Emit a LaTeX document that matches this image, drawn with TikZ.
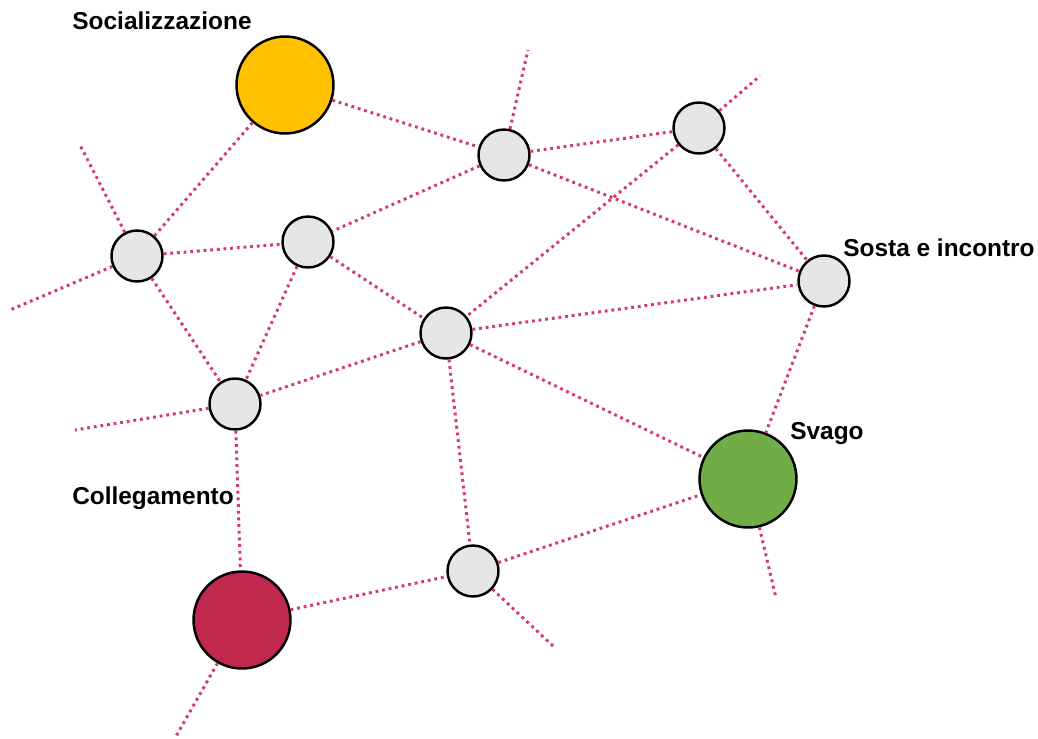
\documentclass[tikz,border=0pt]{standalone}
\usepackage{fontspec}
\setmainfont{Liberation Sans}
\definecolor{giallo}{HTML}{FFC000}
\definecolor{verde}{HTML}{70AD47}
\definecolor{rosso}{HTML}{C0284E}
\definecolor{grigio}{HTML}{E6E6E6}
\definecolor{rete}{HTML}{D63A5C}
\tikzset{
  nodo/.style={circle, draw=black, line width=1.4pt, fill=grigio, minimum size=1.02cm, inner sep=0pt},
  polo/.style={circle, draw=black, line width=1.4pt, minimum size=1.94cm, inner sep=0pt},
  link/.style={rete, line width=1.7pt, dash pattern=on 1.6pt off 2.2pt},
  etichetta/.style={font=\fontsize{13.9}{16}\selectfont\bfseries, inner sep=0pt}
}
\begin{document}
\begin{tikzpicture}[x=0.02cm, y=-0.02cm]
      \useasboundingbox (0,0) rectangle (1038,738);
      \node[polo, fill=giallo] (S) at (285,85) {};
      \node[polo, fill=verde] (V) at (748,479) {};
      \node[polo, fill=rosso] (C) at (242,620) {};
      \node[nodo] (N1) at (504,155) {};
      \node[nodo] (N2) at (699,128) {};
      \node[nodo] (N3) at (308,242) {};
      \node[nodo] (N4) at (137,256) {};
      \node[nodo] (N5) at (446,333) {};
      \node[nodo] (N6) at (824,281) {};
      \node[nodo] (N7) at (235,404) {};
      \node[nodo] (N8) at (473,571) {};
      \coordinate (E1) at (528,50);
      \coordinate (E2) at (760,76);
      \coordinate (E3) at (80,145);
      \coordinate (E4) at (10,310);
      \coordinate (E5) at (75,430);
      \coordinate (E6) at (776,598);
      \coordinate (E7) at (553,646);
      \coordinate (E8) at (175,738);
      \draw[link] (S) -- (N1);
      \draw[link] (S) -- (N4);
      \draw[link] (N1) -- (N2);
      \draw[link] (N1) -- (N3);
      \draw[link] (N1) -- (N6);
      \draw[link] (N2) -- (N6);
      \draw[link] (N2) -- (N5);
      \draw[link] (N4) -- (N3);
      \draw[link] (N4) -- (N7);
      \draw[link] (N3) -- (N7);
      \draw[link] (N3) -- (N5);
      \draw[link] (N5) -- (N6);
      \draw[link] (N5) -- (N7);
      \draw[link] (N5) -- (V);
      \draw[link] (N5) -- (N8);
      \draw[link] (N6) -- (V);
      \draw[link] (N7) -- (C);
      \draw[link] (C) -- (N8);
      \draw[link] (N8) -- (V);
      \draw[link] (N1) -- (E1);
      \draw[link] (N2) -- (E2);
      \draw[link] (N4) -- (E3);
      \draw[link] (N4) -- (E4);
      \draw[link] (N7) -- (E5);
      \draw[link] (V) -- (E6);
      \draw[link] (N8) -- (E7);
      \draw[link] (C) -- (E8);
      \node[etichetta] (L1) at (162,21) {Socializzazione};
      \node[etichetta] (L2) at (939,248) {Sosta e incontro};
      \node[etichetta] (L3) at (827,434) {Svago};
      \node[etichetta] (L4) at (153,498) {Collegamento};
    \end{tikzpicture}
\end{document}
